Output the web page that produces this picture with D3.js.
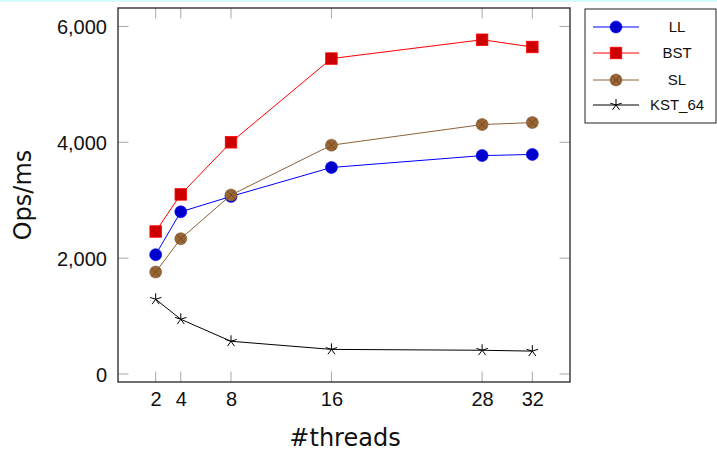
<!DOCTYPE html>
<html>
<head>
<meta charset="utf-8">
<script src="https://cdn.jsdelivr.net/npm/d3@7"></script>
<style>
  html, body { margin: 0; padding: 0; background: #fff; }
  svg { display: block; }
</style>
</head>
<body>
<script>
// ---- data ----
const threads = [2, 4, 8, 16, 28, 32];
const seriesNames = ["LL", "BST", "SL", "KST_64"];
const llValues = [2060, 2800, 3066, 3565, 3770, 3790];
const bstValues = [2460, 3100, 4000, 5445, 5770, 5645];
const slValues = [1760, 2336, 3090, 3950, 4306, 4340];
const kstValues = [1290, 945, 565, 425, 410, 395];
const yTicks = [0, 2000, 4000, 6000];

const W = 717, H = 453;
const svg = d3.select("body").append("svg").attr("width", W).attr("height", H);

// faint cyan stripe at top of the image
svg.append("rect").attr("x", 0).attr("y", 0).attr("width", W).attr("height", 2).attr("fill", "#d6fbfb");

const plot = { left: 118, right: 570, top: 8, bottom: 382 };
const x = d3.scaleLinear().domain([-1, 35]).range([plot.left, plot.right]);
const y = d3.scaleLinear().domain([-138, 6318]).range([plot.bottom, plot.top]);

const tickFont = "'Liberation Sans', Arial, sans-serif";
const labelFont = "'DejaVu Sans', sans-serif";
const tickLen = 10.5;
const tickColor = "#a8a8a8";

// ticks (inside, on all four sides)
const tg = svg.append("g");
threads.forEach(t => {
  tg.append("line").attr("x1", x(t)).attr("x2", x(t)).attr("y1", plot.bottom).attr("y2", plot.bottom - tickLen)
    .attr("stroke", tickColor).attr("stroke-width", 1);
  tg.append("line").attr("x1", x(t)).attr("x2", x(t)).attr("y1", plot.top).attr("y2", plot.top + tickLen)
    .attr("stroke", tickColor).attr("stroke-width", 1);
});
yTicks.forEach(v => {
  tg.append("line").attr("x1", plot.left).attr("x2", plot.left + tickLen).attr("y1", y(v)).attr("y2", y(v))
    .attr("stroke", tickColor).attr("stroke-width", 1);
  tg.append("line").attr("x1", plot.right).attr("x2", plot.right - tickLen).attr("y1", y(v)).attr("y2", y(v))
    .attr("stroke", tickColor).attr("stroke-width", 1);
});

// tick labels via axes (lines hidden)
const xAxis = d3.axisBottom(x).tickValues(threads).tickSize(0).tickPadding(0).tickFormat(d3.format("d"));
const gx = svg.append("g").attr("transform", `translate(0,${plot.bottom})`).call(xAxis);
gx.select(".domain").remove();
gx.selectAll("text").attr("dy", null).attr("y", 24).attr("font-family", tickFont).attr("font-size", 20).attr("fill", "#111");

const yAxis = d3.axisLeft(y).tickValues(yTicks).tickSize(0).tickPadding(0).tickFormat(d3.format(","));
const gy = svg.append("g").attr("transform", `translate(${plot.left},0)`).call(yAxis);
gy.select(".domain").remove();
gy.selectAll("text").attr("x", -11).attr("dy", "0.35em").attr("font-family", tickFont).attr("font-size", 20).attr("fill", "#111");

// frame
svg.append("rect").attr("x", plot.left).attr("y", plot.top)
  .attr("width", plot.right - plot.left).attr("height", plot.bottom - plot.top)
  .attr("fill", "none").attr("stroke", "#222").attr("stroke-width", 1.3);

// axis labels
svg.append("text").attr("x", 345).attr("y", 446).attr("text-anchor", "middle")
  .attr("font-family", labelFont).attr("font-size", 24).attr("fill", "#111").text("#threads");
svg.append("text").attr("transform", `translate(31,195) rotate(-90)`).attr("text-anchor", "middle")
  .attr("font-family", labelFont).attr("font-size", 24).attr("fill", "#111").text("Ops/ms");

// series styling
const styles = {
  "LL":     { line: "#0000ff", fill: "#0000cc", stroke: "#0000ff", mark: "circle" },
  "BST":    { line: "#ff0000", fill: "#cc0000", stroke: "#ff0000", mark: "square" },
  "SL":     { line: "#8c6239", fill: "#996633", stroke: "#7a5a38", mark: "otimes" },
  "KST_64": { line: "#000000", fill: "none", stroke: "#000000", mark: "star" }
};
const seriesData = { "LL": llValues, "BST": bstValues, "SL": slValues, "KST_64": kstValues };

function drawMark(g, type, cx, cy, st, scale) {
  const s = scale || 1;
  if (type === "circle") {
    g.append("circle").attr("cx", cx).attr("cy", cy).attr("r", 6 * s).attr("fill", st.fill).attr("stroke", st.stroke).attr("stroke-width", 0.6);
  } else if (type === "square") {
    const a = 11.5 * s;
    g.append("rect").attr("x", cx - a / 2).attr("y", cy - a / 2).attr("width", a).attr("height", a)
      .attr("fill", st.fill).attr("stroke", st.stroke).attr("stroke-width", 0.8);
  } else if (type === "otimes") {
    const r = 6 * s;
    g.append("circle").attr("cx", cx).attr("cy", cy).attr("r", r).attr("fill", st.fill).attr("stroke", st.stroke).attr("stroke-width", 0.6);
    const k = r * 0.707;
    g.append("path").attr("d", `M${cx - k},${cy - k}L${cx + k},${cy + k}M${cx - k},${cy + k}L${cx + k},${cy - k}`)
      .attr("stroke", "#6b4520").attr("stroke-width", 0.8).attr("fill", "none");
  } else if (type === "star") {
    const r = 6 * s;
    let d = "";
    for (let i = 0; i < 5; i++) {
      const ang = -Math.PI / 2 + i * 2 * Math.PI / 5;
      d += `M${cx},${cy}L${cx + r * Math.cos(ang)},${cy + r * Math.sin(ang)}`;
    }
    g.append("path").attr("d", d).attr("stroke", "#000").attr("stroke-width", 1).attr("fill", "none");
  }
}

const line = d3.line().x((d, i) => x(threads[i])).y(d => y(d));
// draw order: LL, BST, SL, KST
seriesNames.forEach(name => {
  const st = styles[name];
  const vals = seriesData[name];
  const g = svg.append("g");
  g.append("path").attr("d", line(vals)).attr("fill", "none").attr("stroke", st.line).attr("stroke-width", 1);
  vals.forEach((v, i) => drawMark(g, st.mark, x(threads[i]), y(v), st));
});

// legend
const lg = svg.append("g");
lg.append("rect").attr("x", 585).attr("y", 9).attr("width", 131).attr("height", 114)
  .attr("fill", "#fff").attr("stroke", "#222").attr("stroke-width", 1);
const legendY = [27, 53, 80, 105];
seriesNames.forEach((name, i) => {
  const st = styles[name];
  const cy = legendY[i];
  lg.append("line").attr("x1", 593).attr("x2", 639).attr("y1", cy).attr("y2", cy).attr("stroke", st.line).attr("stroke-width", 1);
  drawMark(lg, st.mark, 616, cy, st);
  lg.append("text").attr("x", 677).attr("y", cy).attr("dy", "0.36em").attr("text-anchor", "middle")
    .attr("font-family", tickFont).attr("font-size", 15).attr("fill", "#111").text(name);
});
</script>
</body>
</html>
